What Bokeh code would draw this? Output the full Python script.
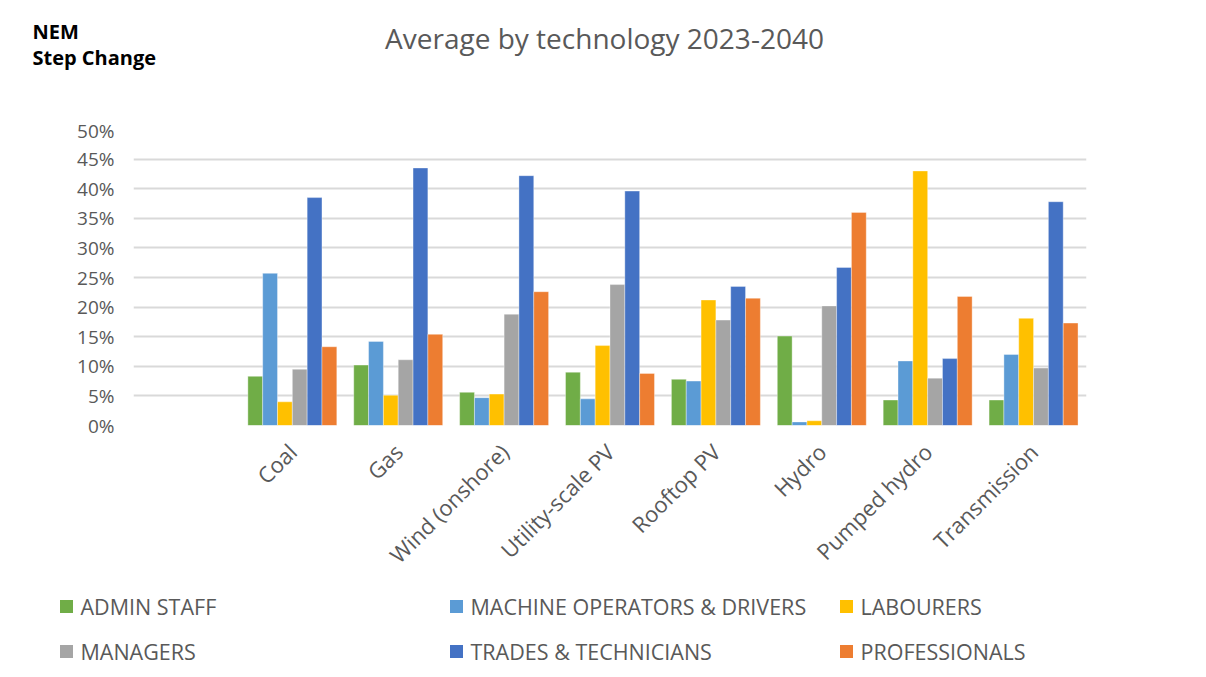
import math
from bokeh.plotting import figure
from bokeh.models import FactorRange, Range1d, PrintfTickFormatter, FixedTicker
from bokeh.core.properties import value
from bokeh.transform import dodge
from bokeh.embed import file_html
from bokeh.resources import INLINE

technologies = [" ", "Coal", "Gas", "Wind (onshore)", "Utility-scale PV", "Rooftop PV",
                "Hydro", "Pumped hydro", "Transmission"]

admin_staff = [None, 8.3, 10.2, 5.6, 9.0, 7.8, 15.1, 4.3, 4.3]
machine_operators = [None, 25.7, 14.2, 4.7, 4.5, 7.5, 0.6, 10.9, 12.0]
labourers = [None, 4.0, 5.1, 5.3, 13.5, 21.2, 0.8, 43.0, 18.1]
managers = [None, 9.5, 11.1, 18.8, 23.8, 17.8, 20.2, 8.0, 9.7]
trades_technicians = [None, 38.5, 43.5, 42.2, 39.6, 23.5, 26.7, 11.3, 37.8]
professionals = [None, 13.3, 15.4, 22.6, 8.8, 21.5, 36.0, 21.8, 17.3]

series_names = ["ADMIN STAFF", "MACHINE OPERATORS & DRIVERS", "LABOURERS",
                "MANAGERS", "TRADES & TECHNICIANS", "PROFESSIONALS"]
series_values = [admin_staff, machine_operators, labourers, managers,
                 trades_technicians, professionals]
series_colors = ["#70AD47", "#5B9BD5", "#FFC000", "#A5A5A5", "#4472C4", "#ED7D31"]

y_ticks = [0, 5, 10, 15, 20, 25, 30, 35, 40, 45, 50]

chart_title = "Average by technology 2023-2040"
corner_lines = ["NEM", "Step Change"]

TEXT = "#595959"
FONT = "Open Sans"
W = 1200


def strip(top_y, h):
    """Figure whose frame is the whole strip; y values are page pixels."""
    f = figure(width=W, height=h, x_range=Range1d(0, W),
               y_range=Range1d(top_y + h, top_y),
               output_backend="svg", toolbar_location=None,
               min_border=0, min_border_left=0, min_border_right=0,
               min_border_top=0, min_border_bottom=0)
    f.axis.visible = False
    f.grid.visible = False
    f.outline_line_color = None
    return f


# ---- top strip: title and scenario label ----
TOP_H = 117
top = strip(0, TOP_H)
top.text(x=[604], y=[37], text=[chart_title], text_font=value(FONT),
         text_font_size="28px", text_color=TEXT, text_align="center",
         text_baseline="middle")
top.text(x=[32, 32], y=[31, 57], text=corner_lines, text_font=value(FONT),
         text_font_size="20px", text_font_style="bold", text_color="black",
         text_align="left", text_baseline="middle")

# ---- main chart ----
MAIN_H = 470
p = figure(x_range=FactorRange(*technologies, range_padding=0), y_range=(0, 50),
           width=W, height=MAIN_H, output_backend="svg", toolbar_location=None,
           min_border_left=133, min_border_right=114, min_border_top=12,
           min_border_bottom=162)
p.outline_line_color = None

data = {"tech": technologies}
for i, vals in enumerate(series_values):
    data[f"s{i}"] = [v if v is not None else float("nan") for v in vals]

bar_w = 0.14
for i, (name, color) in enumerate(zip(series_names, series_colors)):
    p.vbar(x=dodge("tech", (i - 2.5) * bar_w, range=p.x_range), top=f"s{i}",
           width=bar_w, source=data, fill_color=color, line_color="white",
           line_width=0.6, line_alpha=0.6)

p.yaxis.ticker = FixedTicker(ticks=y_ticks)
p.yaxis.formatter = PrintfTickFormatter(format="%d%%")
p.yaxis.axis_line_color = None
p.yaxis.major_tick_line_color = None
p.yaxis.minor_tick_line_color = None
p.yaxis.major_label_text_font = FONT
p.yaxis.major_label_text_font_size = "19px"
p.yaxis.major_label_text_color = TEXT
p.yaxis.major_label_standoff = 13

p.xaxis.axis_line_color = None
p.xaxis.major_tick_line_color = None
p.xaxis.major_label_orientation = math.pi / 4
p.xaxis.major_label_text_font = FONT
p.xaxis.major_label_text_font_size = "22px"
p.xaxis.major_label_text_color = TEXT
p.xaxis.major_label_standoff = 16

p.xgrid.grid_line_color = None
p.ygrid.grid_line_color = "#D9D9D9"
p.ygrid.grid_line_width = 2
p.ygrid.ticker = FixedTicker(ticks=y_ticks)

# ---- legend strip (3 columns x 2 rows) ----
LEG_TOP = TOP_H + MAIN_H
LEG_H = 85
leg = strip(LEG_TOP, LEG_H)
col_x = [66, 456, 846]
row_y = [606, 651]
sq_x = [col_x[i % 3] for i in range(len(series_names))]
sq_y = [row_y[i // 3] for i in range(len(series_names))]
leg.scatter(x=sq_x, y=sq_y, marker="square", size=13, fill_color=series_colors,
            line_color=None)
leg.text(x=[x + 14 for x in sq_x], y=sq_y, text=series_names,
         text_font=value(FONT), text_font_size="21.5px", text_color=TEXT,
         text_align="left", text_baseline="middle")

open("out.html", "w").write(file_html([top, p, leg], INLINE))
